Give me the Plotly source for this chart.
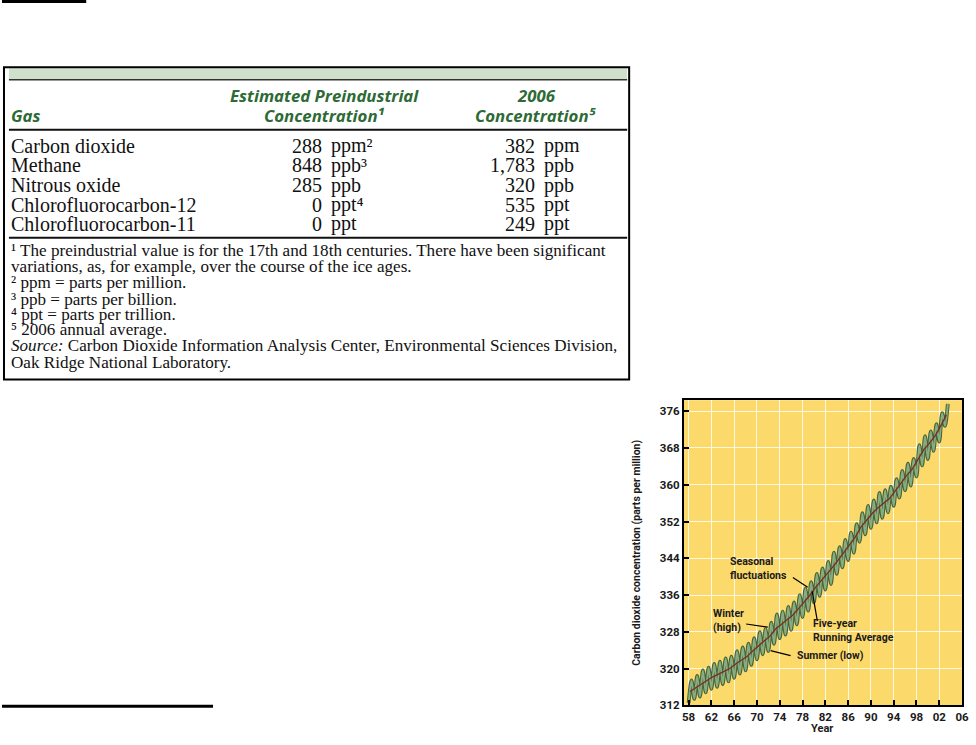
import plotly.graph_objects as go

# ---------------------------------------------------------------
# data
# ---------------------------------------------------------------
gases = ["Carbon dioxide", "Methane", "Nitrous oxide",
         "Chlorofluorocarbon-12", "Chlorofluorocarbon-11"]
pre_values = ["288", "848", "285", "0", "0"]
pre_units = ["ppm²", "ppb³", "ppb", "ppt⁴", "ppt"]
now_values = ["382", "1,783", "320", "535", "249"]
now_units = ["ppm", "ppb", "ppb", "ppt", "ppt"]

footnotes = [
    "¹ The preindustrial value is for the 17th and 18th centuries. There have been significant",
    "variations, as, for example, over the course of the ice ages.",
    "² ppm = parts per million.",
    "³ ppb = parts per billion.",
    "⁴ ppt = parts per trillion.",
    "⁵ 2006 annual average.",
    "<i>Source:</i> Carbon Dioxide Information Analysis Center, Environmental Sciences Division,",
    "Oak Ridge National Laboratory.",
]

years = list(range(1958, 2004))
running_avg = [315.0, 315.8, 316.7, 317.4, 318.2, 318.8, 319.4, 320.0, 321.0, 321.8,
               322.6, 323.8, 325.0, 326.0, 327.0, 328.6, 329.6, 330.6, 331.6, 333.0,
               334.4, 335.9, 337.6, 339.0, 340.4, 342.0, 343.6, 345.2, 346.8, 348.6,
               350.8, 352.4, 353.8, 355.0, 356.0, 357.0, 358.6, 360.4, 362.0, 363.4,
               365.6, 367.6, 369.0, 370.6, 372.8, 375.2]
winter_high = [317.4, 318.4, 319.6, 320.2, 321.0, 321.5, 322.2, 322.6, 323.8, 324.6,
               325.4, 326.6, 327.9, 328.6, 330.0, 331.8, 332.4, 333.4, 334.4, 336.0,
               337.4, 338.8, 340.6, 341.8, 343.2, 345.2, 346.4, 348.0, 349.6, 351.4,
               353.8, 355.4, 356.6, 358.2, 358.8, 359.6, 361.2, 363.0, 364.6, 365.6,
               368.6, 370.6, 371.6, 373.2, 375.6, 377.6]
summer_low = [312.5, 313.4, 313.9, 314.8, 315.6, 316.0, 316.6, 317.2, 318.0, 318.9,
              319.6, 320.8, 322.0, 323.1, 323.8, 325.4, 326.6, 327.4, 328.4, 329.6,
              331.2, 332.6, 334.4, 335.8, 337.2, 338.4, 340.6, 342.0, 343.6, 345.2,
              347.6, 349.2, 350.6, 351.8, 352.8, 354.0, 355.4, 357.2, 358.8, 359.8,
              361.8, 364.2, 365.6, 367.4, 369.4, 372.8]

x_ticks = list(range(1958, 2007, 4))
x_ticktext = ["58", "62", "66", "70", "74", "78", "82", "86", "90", "94", "98", "02", "06"]
y_ticks = list(range(312, 377, 8))

# ---------------------------------------------------------------
# page helpers (pixel -> paper)
# ---------------------------------------------------------------
W, H = 976, 745


def fx(p):
    return p / W


def fy(p):
    return 1 - p / H


# seasonal curve: low at start of year, high half a year later
season_x, season_y = [], []
for yr, lo, hi in zip(years, summer_low, winter_high):
    season_x += [yr, yr + 0.5]
    season_y += [lo, hi]
avg_x = [yr + 0.25 for yr in years]

fig = go.Figure()
fig.add_trace(go.Scatter(x=season_x, y=season_y, mode="lines",
                         line=dict(color="#45633e", width=3.8, shape="spline", smoothing=0.8),
                         hoverinfo="skip", showlegend=False))
fig.add_trace(go.Scatter(x=season_x, y=season_y, mode="lines",
                         line=dict(color="#89ad7c", width=1.9, shape="spline", smoothing=0.8),
                         showlegend=False, name="Seasonal"))
fig.add_trace(go.Scatter(x=avg_x, y=running_avg, mode="lines",
                         line=dict(color="#7d2b20", width=1.3),
                         showlegend=False, name="Five-year running average"))

axis_font = dict(family="Roboto", size=11.5, color="#1a1a1a", weight="bold")
fig.update_layout(
    width=W, height=H,
    margin=dict(l=0, r=0, t=0, b=0),
    paper_bgcolor="white",
    plot_bgcolor="#fcd96b",
    xaxis=dict(domain=[fx(688), fx(969)], range=[1957.13, 2006],
               tickvals=x_ticks, ticktext=x_ticktext, ticks="inside", ticklen=6,
               tickwidth=1.5, tickcolor="black", tickfont=axis_font,
               showline=True, linecolor="black", linewidth=1.5, mirror=True,
               showgrid=True, gridcolor="rgba(255,255,255,0.8)", gridwidth=1,
               zeroline=False),
    yaxis=dict(domain=[fy(712), fy(404)], range=[312, 378.4],
               tickvals=y_ticks, ticks="inside", ticklen=6,
               tickwidth=1.5, tickcolor="black", tickfont=axis_font,
               showline=True, linecolor="black", linewidth=1.5, mirror=True,
               showgrid=True, gridcolor="rgba(255,255,255,0.8)", gridwidth=1,
               zeroline=False),
)

shapes = []
annos = []

# loose rules on the page
shapes.append(dict(type="line", xref="paper", yref="paper", x0=fx(0), x1=fx(85),
                   y0=fy(1.5), y1=fy(1.5), line=dict(color="black", width=3)))
shapes.append(dict(type="line", xref="paper", yref="paper", x0=fx(0), x1=fx(213),
                   y0=fy(713), y1=fy(713), line=dict(color="black", width=3)))

# table frame
shapes.append(dict(type="rect", xref="paper", yref="paper", x0=fx(7), x1=fx(631),
                   y0=fy(80), y1=fy(69), fillcolor="#cfe0cb", line=dict(width=0)))
shapes.append(dict(type="rect", xref="paper", yref="paper", x0=fx(2), x1=fx(633),
                   y0=fy(383), y1=fy(68), line=dict(color="black", width=2)))
for yy, lw, col in [(80.5, 1.5, "#333333"), (131, 2.2, "#111111"), (240, 2, "#111111")]:
    shapes.append(dict(type="line", xref="paper", yref="paper", x0=fx(7), x1=fx(631),
                       y0=fy(yy), y1=fy(yy), line=dict(color=col, width=lw)))

head_font = dict(family="Open Sans", size=16.8, color="#2d6a35", weight="bold", style="italic")
for txt, cx, cy in [("Gas", 7, 117),
                    ("Estimated Preindustrial", 326, 96),
                    ("Concentration¹", 326, 117),
                    ("2006", 539, 96),
                    ("Concentration⁵", 539, 117)]:
    annos.append(dict(xref="paper", yref="paper", x=fx(cx), y=fy(cy), text=txt,
                      showarrow=False, font=head_font,
                      xanchor="left" if txt == "Gas" else "center", yanchor="middle"))

body_font = dict(family="Liberation Serif", size=20, color="#111111")
row_y = [147, 167, 187, 206.5, 226]
for i, gas in enumerate(gases):
    yy = fy(row_y[i])
    annos.append(dict(xref="paper", yref="paper", x=fx(7), y=yy, text=gas,
                      showarrow=False, font=body_font, xanchor="left", yanchor="middle"))
    annos.append(dict(xref="paper", yref="paper", x=fx(325), y=yy, text=pre_values[i],
                      showarrow=False, font=body_font, xanchor="right", yanchor="middle"))
    annos.append(dict(xref="paper", yref="paper", x=fx(330), y=yy, text=pre_units[i],
                      showarrow=False, font=body_font, xanchor="left", yanchor="middle"))
    annos.append(dict(xref="paper", yref="paper", x=fx(540), y=yy, text=now_values[i],
                      showarrow=False, font=body_font, xanchor="right", yanchor="middle"))
    annos.append(dict(xref="paper", yref="paper", x=fx(545), y=yy, text=now_units[i],
                      showarrow=False, font=body_font, xanchor="left", yanchor="middle"))

note_font = dict(family="Liberation Serif", size=17.1, color="#111111")
note_y = [253, 269, 285, 302, 317, 333, 349, 366]
for txt, yy in zip(footnotes, note_y):
    annos.append(dict(xref="paper", yref="paper", x=fx(7), y=fy(yy), text=txt,
                      showarrow=False, font=note_font, xanchor="left", yanchor="middle"))

# chart callouts
call_font = dict(family="Roboto", size=10.5, color="#1a1a1a", weight="bold")
for txt, lx, ly in [("Seasonal<br>fluctuations", 733, 574),
                    ("Winter<br>(high)", 716, 626),
                    ("Five-year<br>Running Average", 817, 636),
                    ("Summer (low)", 800, 662)]:
    annos.append(dict(xref="paper", yref="paper", x=fx(lx), y=fy(ly), text=txt,
                      showarrow=False, font=call_font, align="left",
                      xanchor="left", yanchor="middle"))

for x0, y0, x1, y1 in [(1976.3, 339.8, 1978.9, 337.7),
                       (1968.1, 329.7, 1971.9, 329.0),
                       (1979.7, 336.8, 1980.6, 330.3),
                       (1972.4, 323.9, 1975.9, 322.8)]:
    shapes.append(dict(type="line", xref="x", yref="y", x0=x0, y0=y0, x1=x1, y1=y1,
                       line=dict(color="black", width=1.2)))

annos.append(dict(xref="paper", yref="paper", x=fx(828), y=fy(735), text="Year",
                  showarrow=False, font=dict(family="Roboto", size=11, color="#1a1a1a", weight="bold"),
                  xanchor="center", yanchor="middle"))
annos.append(dict(xref="paper", yref="paper", x=fx(641), y=fy(558),
                  text="Carbon dioxide concentration (parts per million)", textangle=-90,
                  showarrow=False, font=dict(family="Roboto", size=10.5, color="#1a1a1a", weight="bold"),
                  xanchor="center", yanchor="middle"))

fig.update_layout(shapes=shapes, annotations=annos)

# drop the browser's default body margin so the page lines up with the window
fig.write_html("out.html", config={"displayModeBar": False},
               post_script="document.body.style.margin='0';document.body.style.overflow='hidden';")
